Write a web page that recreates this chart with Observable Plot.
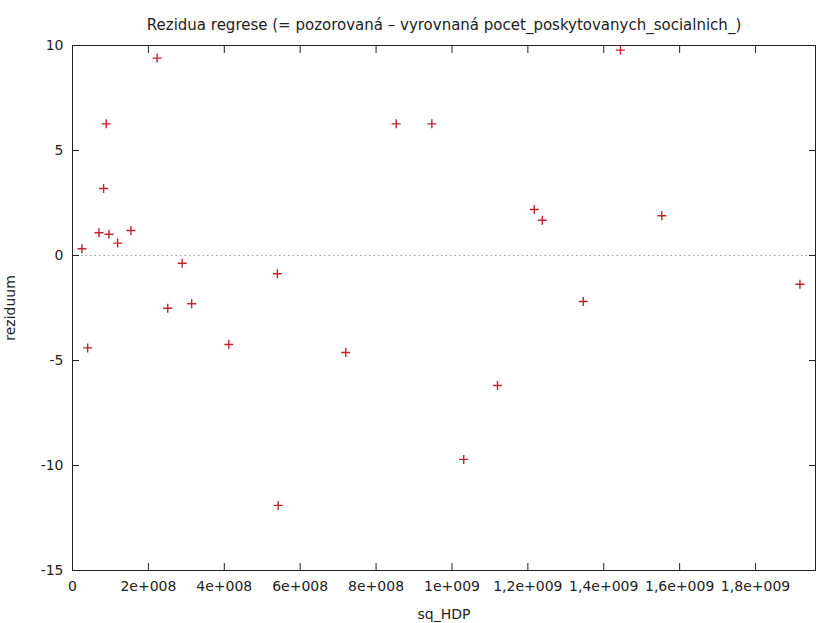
<!DOCTYPE html>
<html>
<head>
<meta charset="utf-8">
<script src="https://cdn.jsdelivr.net/npm/d3@7"></script>
<script src="https://cdn.jsdelivr.net/npm/@observablehq/plot@0.6"></script>
<style>
  html, body { margin: 0; padding: 0; background: #fff; }
  svg { display: block; }
</style>
</head>
<body>
<div id="chart"></div>
<script>
// Regression residuals against sq_HDP
const sqHDP = [
  2.5e7, 4.0e7, 7.0e7, 9.6e7, 8.2e7, 8.9e7, 1.19e8, 1.54e8, 2.23e8, 2.89e8,
  2.51e8, 3.14e8, 5.40e8, 4.12e8, 5.42e8, 7.20e8, 8.53e8, 9.47e8, 1.031e9, 1.120e9,
  1.217e9, 1.238e9, 1.444e9, 1.553e9, 1.346e9, 1.917e9
];
const reziduum = [
  0.32, -4.40, 1.08, 1.01, 3.19, 6.27, 0.59, 1.19, 9.40, -0.37,
  -2.51, -2.30, -0.87, -4.24, -11.90, -4.62, 6.27, 6.27, -9.71, -6.19,
  2.19, 1.68, 9.78, 1.89, -2.19, -1.37
];

const xTicks = [0, 2e8, 4e8, 6e8, 8e8, 1e9, 1.2e9, 1.4e9, 1.6e9, 1.8e9];
const xTickLabels = ["0", "2e+008", "4e+008", "6e+008", "8e+008", "1e+009", "1,2e+009", "1,4e+009", "1,6e+009", "1,8e+009"];
const yTicks = [-15, -10, -5, 0, 5, 10];
const yTickLabels = ["-15", "-10", "-5", "0", "5", "10"];

const title = "Rezidua regrese (= pozorovaná – vyrovnaná pocet_poskytovanych_socialnich_)";

const points = sqHDP.map((x, i) => ({x, y: reziduum[i]}));
const xLabel = v => xTickLabels[xTicks.indexOf(v)];
const yLabel = v => yTickLabels[yTicks.indexOf(v)];

const ink = "#222";

const chart = Plot.plot({
  width: 817,
  height: 623,
  marginLeft: 72,
  marginRight: 2,
  marginTop: 45,
  marginBottom: 53,
  style: {fontFamily: "'DejaVu Sans', sans-serif", fontSize: "14px", color: ink, background: "#fff"},
  x: {domain: [0, 1.958e9]},
  y: {domain: [-15, 10]},
  marks: [
    // zero reference line
    Plot.ruleY([0], {stroke: "#9a9a9a", strokeDasharray: "1.5,3"}),
    // inward tick marks on all four sides
    Plot.axisX({anchor: "bottom", ticks: xTicks, tickSize: -7, tickFormat: () => "", label: null, stroke: ink}),
    Plot.axisX({anchor: "top", ticks: xTicks, tickSize: -7, tickFormat: () => "", label: null, stroke: ink}),
    Plot.axisY({anchor: "left", ticks: yTicks, tickSize: -7, tickFormat: () => "", label: null, stroke: ink}),
    Plot.axisY({anchor: "right", ticks: yTicks, tickSize: -7, tickFormat: () => "", label: null, stroke: ink}),
    // tick labels and axis titles
    Plot.axisX({anchor: "bottom", ticks: xTicks, tickSize: 0, tickPadding: 11, tickFormat: xLabel, fontSize: 14,
      label: "sq_HDP", labelAnchor: "center", labelArrow: "none", labelOffset: 48, fill: ink}),
    Plot.axisY({anchor: "left", ticks: yTicks, tickSize: 0, tickPadding: 9, tickFormat: yLabel, fontSize: 14,
      label: "reziduum", labelAnchor: "center", labelArrow: "none", labelOffset: 67, fill: ink}),
    Plot.frame({stroke: ink}),
    Plot.dot(points, {x: "x", y: "y", symbol: "plus", r: 3, stroke: "#c0242e", strokeWidth: 1.4}),
    Plot.text([title], {frameAnchor: "top", dy: -26, fontSize: 15, fill: ink})
  ]
});

document.getElementById("chart").appendChild(chart);
</script>
</body>
</html>
